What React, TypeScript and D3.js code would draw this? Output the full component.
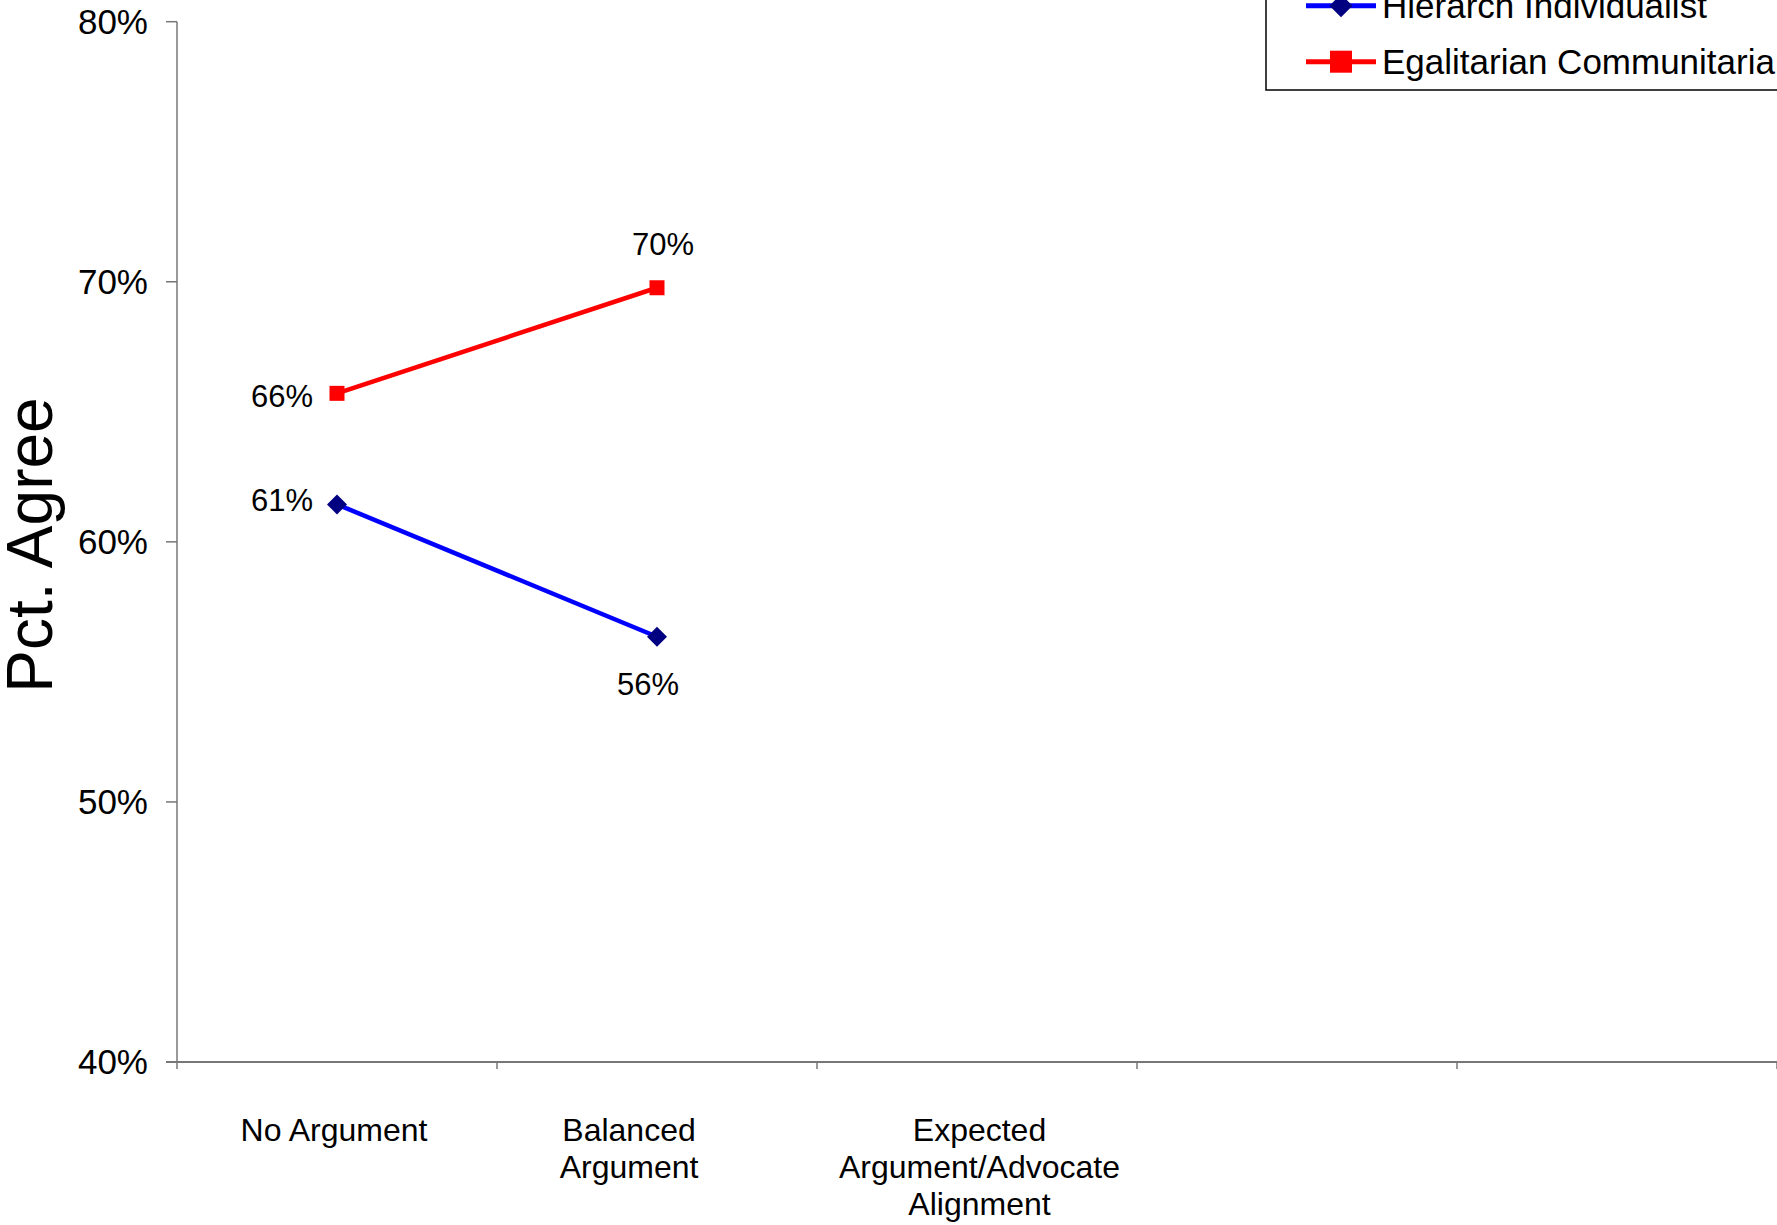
import React from "react";
import * as d3 from "d3";

// ---- data ----
const categories = ["No Argument", "Balanced Argument", "Expected Argument/Advocate Alignment", "", ""];
const categoryLines = [["No Argument"], ["Balanced", "Argument"], ["Expected", "Argument/Advocate", "Alignment"], [], []];
const hierarchValues = [0.6144, 0.5635];
const egalValues = [0.6571, 0.6977];
const hierarchLabels = ["61%", "56%"];
const egalLabels = ["66%", "70%"];
const seriesNames = ["Hierarch Individualist", "Egalitarian Communitarian"];
const yTicks = [0.4, 0.5, 0.6, 0.7, 0.8];
const yTickLabels = ["40%", "50%", "60%", "70%", "80%"];
const yTitle = "Pct. Agree";

// ---- layout ----
const W = 1777, H = 1225;
const plot = { left: 177, top: 21.7, bottom: 1062, right: 1777 };
const FONT = "'Liberation Sans', Arial, sans-serif";
const catLabelDx = [-3, -28, 2.5, 0, 0];
// label offsets relative to point: [dx, dy(baseline)]
const hierarchLabelPos = [{ anchor: "end", dx: -24, dy: 6.5 }, { anchor: "middle", dx: -9, dy: 58 }];
const egalLabelPos = [{ anchor: "end", dx: -24, dy: 14 }, { anchor: "middle", dx: 6, dy: -33 }];

export default function App() {
  const x = d3.scaleBand<number>().domain(categories.map((_, i) => i)).range([plot.left, plot.right]).padding(0);
  const y = d3.scaleLinear().domain([0.4, 0.8]).range([plot.bottom, plot.top]);
  const cx = (i: number) => (x(i) as number) + x.bandwidth() / 2;
  const line = d3.line<number>().x((_, i) => cx(i)).y((v) => y(v));
  const boundaries = d3.range(categories.length + 1).map((i) => plot.left + i * x.bandwidth());

  const diamond = (px: number, py: number, r: number) =>
    `M${px},${py - r}L${px + r},${py}L${px},${py + r}L${px - r},${py}Z`;

  const series = [
    { name: seriesNames[0], values: hierarchValues, labels: hierarchLabels, pos: hierarchLabelPos, line: "#0000FF", marker: "#000080", shape: "diamond" },
    { name: seriesNames[1], values: egalValues, labels: egalLabels, pos: egalLabelPos, line: "#FF0000", marker: "#FF0000", shape: "square" },
  ];

  return (
    <svg width={W} height={H} style={{ position: "absolute", left: 0, top: 0, background: "#fff" }} fontFamily={FONT}>
      <rect x={0} y={0} width={W} height={H} fill="#fff" />
      {/* y axis */}
      <line x1={plot.left} x2={plot.left} y1={plot.top} y2={plot.bottom} stroke="#777" strokeWidth={1.5} />
      {yTicks.map((t, i) => (
        <g key={t}>
          <line x1={plot.left - 11} x2={plot.left} y1={y(t)} y2={y(t)} stroke="#777" strokeWidth={1.5} />
          <text x={148} y={y(t)} dy="0.35em" textAnchor="end" fontSize={35} fill="#000">{yTickLabels[i]}</text>
        </g>
      ))}
      {/* x axis */}
      <line x1={plot.left - 11} x2={plot.right} y1={plot.bottom} y2={plot.bottom} stroke="#777" strokeWidth={2} />
      {boundaries.map((b, i) => (
        <line key={i} x1={b} x2={b} y1={plot.bottom} y2={plot.bottom + 7} stroke="#777" strokeWidth={1.5} />
      ))}
      {categoryLines.map((lines, i) => (
        <text key={i} x={cx(i) + catLabelDx[i]} y={1140.5} textAnchor="middle" fontSize={32} fill="#000">
          {lines.map((l, j) => (
            <tspan key={j} x={cx(i) + catLabelDx[i]} dy={j === 0 ? 0 : 37}>{l}</tspan>
          ))}
        </text>
      ))}
      {/* y title */}
      <text transform={`translate(51.7, 545) rotate(-90)`} textAnchor="middle" fontSize={64} fill="#000">{yTitle}</text>
      {/* series */}
      {series.map((s) => (
        <g key={s.name}>
          <path d={line(s.values) as string} fill="none" stroke={s.line} strokeWidth={4.5} />
          {s.values.map((v, i) =>
            s.shape === "diamond" ? (
              <path key={i} d={diamond(cx(i), y(v), 10)} fill={s.marker} />
            ) : (
              <rect key={i} x={cx(i) - 7.5} y={y(v) - 7.5} width={15} height={15} fill={s.marker} />
            )
          )}
          {s.values.map((v, i) => (
            <text key={"l" + i} x={cx(i) + s.pos[i].dx} y={y(v) + s.pos[i].dy} textAnchor={s.pos[i].anchor as any} fontSize={31} fill="#000">
              {s.labels[i]}
            </text>
          ))}
        </g>
      ))}
      {/* legend */}
      <rect x={1266} y={-40} width={600} height={130} fill="#fff" stroke="#000" strokeWidth={1.5} />
      {series.map((s, i) => {
        const ly = 5.7 + i * 56;
        return (
          <g key={"lg" + i}>
            <line x1={1306} x2={1376} y1={ly} y2={ly} stroke={s.line} strokeWidth={5} />
            {s.shape === "diamond" ? (
              <path d={diamond(1341, ly, 11.5)} fill={s.marker} />
            ) : (
              <rect x={1341 - 11} y={ly - 11} width={22} height={22} fill={s.marker} />
            )}
            <text x={1382} y={ly} dy="0.35em" fontSize={35} fill="#000">{s.name}</text>
          </g>
        );
      })}
    </svg>
  );
}
